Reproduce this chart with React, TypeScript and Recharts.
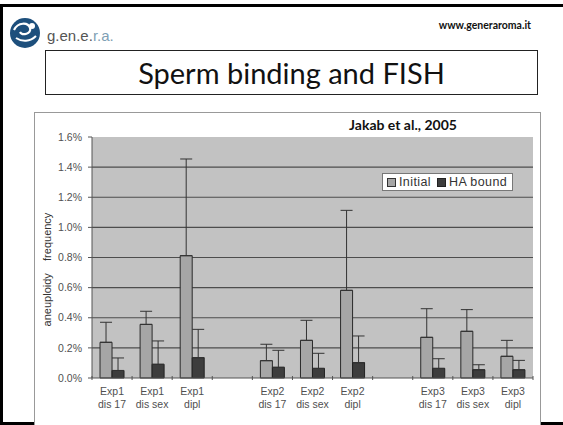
import React from "react";
import {
  BarChart,
  Bar,
  XAxis,
  YAxis,
  CartesianGrid,
  ErrorBar,
  Legend,
} from "recharts";

// ---- data ----
const categories = [
  "Exp1|dis 17",
  "Exp1|dis sex",
  "Exp1|dipl",
  "",
  "Exp2|dis 17",
  "Exp2|dis sex",
  "Exp2|dipl",
  " ",
  "Exp3|dis 17",
  "Exp3|dis sex",
  "Exp3|dipl",
];
const initialValues = [0.237, 0.356, 0.812, null, 0.115, 0.25, 0.582, null, 0.27, 0.31, 0.144];
const initialErr = [0.133, 0.087, 0.642, null, 0.109, 0.133, 0.531, null, 0.19, 0.144, 0.106];
const haValues = [0.05, 0.091, 0.135, null, 0.071, 0.064, 0.102, null, 0.064, 0.055, 0.055];
const haErr = [0.083, 0.155, 0.188, null, 0.113, 0.1, 0.177, null, 0.064, 0.033, 0.062];
const yTicks = [0, 0.2, 0.4, 0.6, 0.8, 1.0, 1.2, 1.4, 1.6];
const Y_MAX = 1.6;

const data = categories.map((c, i) => ({
  name: c,
  initial: initialValues[i],
  initialErr: initialErr[i] == null ? null : [0, initialErr[i]],
  ha: haValues[i],
  haErr: haErr[i] == null ? null : [0, haErr[i]],
}));

const W = 563;
const H = 425;
const PLOT_LEFT = 92;
const PLOT_RIGHT = 533;
const BAND = (PLOT_RIGHT - PLOT_LEFT) / categories.length;
const AXIS_FONT = "'Liberation Sans', Arial, sans-serif";
const CAL_FONT = "Lato, 'Open Sans', sans-serif";

const XTick = (props: any) => {
  const { x, y, payload, index } = props;
  const parts = String(payload.value).trim() ? String(payload.value).split("|") : [];
  const axisY = y - 10;
  return (
    <g>
      <line x1={x - BAND / 2} x2={x - BAND / 2} y1={axisY} y2={axisY + 4} stroke="#555" />
      {index === categories.length - 1 && (
        <line x1={x + BAND / 2} x2={x + BAND / 2} y1={axisY} y2={axisY + 4} stroke="#555" />
      )}
      {parts.map((p: string, k: number) => (
        <text
          key={k}
          x={x}
          y={axisY + 19 + k * 13}
          textAnchor="middle"
          fontFamily={AXIS_FONT}
          fontSize={10.5}
          fill="#505050"
        >
          {p}
        </text>
      ))}
    </g>
  );
};

const YLabel = (props: any) => {
  const vb = props.viewBox || { x: 34, y: 137, width: 58, height: 241 };
  const cx = vb.x + 13;
  const cy = vb.y + vb.height / 2 + 12;
  return (
    <text
      x={cx}
      y={cy}
      transform={`rotate(-90, ${cx}, ${cy})`}
      textAnchor="middle"
      dominantBaseline="central"
      fontFamily={AXIS_FONT}
      fontSize={11}
      fill="#333"
      style={{ whiteSpace: "pre" }}
    >
      {"aneuploidy    frequency"}
    </text>
  );
};

const LegendBox = () => (
  <div
    style={{
      width: 125,
      height: 16,
      background: "#fff",
      border: "1px solid #777",
      display: "flex",
      alignItems: "center",
      fontFamily: AXIS_FONT,
      fontSize: 12.5,
      color: "#333",
      letterSpacing: 0.4,
      paddingLeft: 4,
      boxSizing: "content-box",
    }}
  >
    <span style={{ width: 7, height: 7, background: "#a6a6a6", border: "1px solid #333", display: "inline-block", marginRight: 3 }} />
    <span style={{ marginRight: 6 }}>Initial</span>
    <span style={{ width: 7, height: 7, background: "#3d3d3d", border: "1px solid #222", display: "inline-block", marginRight: 3 }} />
    <span>HA bound</span>
  </div>
);

export default function App() {
  return (
    <div style={{ position: "absolute", left: 0, top: 0, width: W, height: H, background: "#fff", overflow: "hidden" }}>
      {/* slide frame */}
      <div style={{ position: "absolute", left: 0, top: 4, width: W, height: 3, background: "#000" }} />
      <div style={{ position: "absolute", left: 0, top: 4, width: 3, height: H - 4, background: "#000" }} />
      <div style={{ position: "absolute", left: 0, top: 422, width: W, height: 3, background: "#000" }} />

      {/* logo */}
      <svg style={{ position: "absolute", left: 8, top: 16 }} width={36} height={34}>
        <ellipse cx={17} cy={17} rx={15} ry={15} fill="#1d4f7c" />
        <path d="M6 14 C10 6, 20 6, 22 12 C24 18, 14 20, 12 16" stroke="#fff" strokeWidth={2.2} fill="none" />
        <path d="M8 22 C14 26, 22 26, 28 20" stroke="#fff" strokeWidth={2} fill="none" />
        <circle cx={24} cy={10} r={3} fill="#fff" />
      </svg>
      <div style={{ position: "absolute", left: 47, top: 27, fontFamily: AXIS_FONT, fontSize: 15, color: "#555", whiteSpace: "pre" }}>
        g.en.e.<span style={{ color: "#7f9fb5" }}>r.a.</span>
      </div>
      <div style={{ position: "absolute", left: 380, width: 151, textAlign: "right", top: 19, fontFamily: CAL_FONT, fontWeight: 700, fontSize: 10.5, color: "#111" }}>
        www.generaroma.it
      </div>

      {/* title box */}
      <div
        style={{
          position: "absolute",
          left: 45,
          top: 50,
          width: 491,
          height: 43,
          border: "1px solid #222",
          display: "flex",
          alignItems: "center",
          justifyContent: "center",
          fontFamily: CAL_FONT,
          fontSize: 29,
          color: "#111",
        }}
      >
        Sperm binding and FISH
      </div>

      {/* chart panel */}
      <div style={{ position: "absolute", left: 34, top: 112, width: 505, height: 330, border: "1px solid #999", background: "#fff" }} />
      <div style={{ position: "absolute", left: 303, width: 200, textAlign: "center", top: 116, fontFamily: CAL_FONT, fontWeight: 700, fontSize: 14, color: "#111" }}>
        Jakab et al., 2005
      </div>

      <div style={{ position: "absolute", left: 0, top: 0 }}>
        <BarChart
          width={W}
          height={H}
          data={data}
          margin={{ top: 137, right: W - PLOT_RIGHT, bottom: 7, left: 34 }}
          barCategoryGap="20%"
          barGap={0}
        >
          <CartesianGrid
            vertical={false}
            fill="#c2c2c2"
            stroke="#4d4d4d"
            strokeWidth={1.2}
            horizontalCoordinatesGenerator={(args: any) => {
              const off = args && args.offset;
              if (!off) return [];
              return yTicks.slice(1, -1).map((t) => off.top + off.height * (1 - t / Y_MAX));
            }}
          />
          <XAxis
            dataKey="name"
            interval={0}
            height={40}
            tickLine={false}
            axisLine={{ stroke: "#555" }}
            tick={<XTick />}
          />
          <YAxis
            width={58}
            domain={[0, Y_MAX]}
            ticks={yTicks}
            interval={0}
            tickFormatter={(v: number) => `${v.toFixed(1)}%`}
            tick={{ fontFamily: AXIS_FONT, fontSize: 10.5, fill: "#505050" }}
            tickSize={4}
            tickMargin={6}
            tickLine={{ stroke: "#555" }}
            axisLine={{ stroke: "#555" }}
            label={{ content: (p: any) => <YLabel {...p} /> }}
          />
          <Legend
            content={() => <LegendBox />}
            wrapperStyle={{ position: "absolute", left: 382, top: 173, width: 0, height: 0, overflow: "visible" }}
          />
          <Bar dataKey="initial" fill="#a6a6a6" stroke="#2a2a2a" strokeWidth={1} isAnimationActive={false}>
            <ErrorBar dataKey="initialErr" width={6} stroke="#333" strokeWidth={1} direction="y" />
          </Bar>
          <Bar dataKey="ha" fill="#3d3d3d" stroke="#222" strokeWidth={1} isAnimationActive={false}>
            <ErrorBar dataKey="haErr" width={6} stroke="#333" strokeWidth={1} direction="y" />
          </Bar>
        </BarChart>
      </div>
    </div>
  );
}
